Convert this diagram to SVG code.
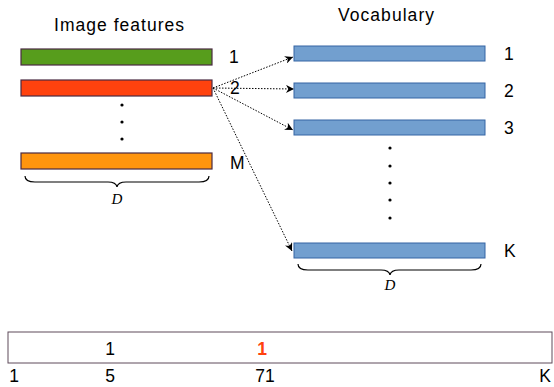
<svg xmlns="http://www.w3.org/2000/svg" width="554" height="387" viewBox="0 0 554 387">
<defs>
<marker id="ah" viewBox="0 0 10 10" refX="10" refY="5" markerWidth="10" markerHeight="8" markerUnits="userSpaceOnUse" orient="auto">
<path d="M0,0 L10,5 L0,10 L3,5 Z" fill="#000"/>
</marker>
<style>
text{font-family:"Liberation Sans",Arial,sans-serif;font-size:17.5px;fill:#000}
.d{font-family:"Liberation Serif","Times New Roman",serif;font-style:italic;font-size:15px}
.feat{stroke:#4a2a42;stroke-width:1.2}
.voc{fill:#729fcf;stroke:#3465a4;stroke-width:1}
.conn{fill:none;stroke:#000;stroke-width:1;stroke-dasharray:1.5,1.5}
.brace{fill:none;stroke:#000;stroke-width:1.2}
</style>
</defs>
<rect width="554" height="387" fill="#fff"/>
<text x="54" y="31" textLength="130" lengthAdjust="spacing">Image features</text>
<text x="338" y="21" textLength="96" lengthAdjust="spacing">Vocabulary</text>
<g id="feat1"><rect class="feat" x="21" y="49" width="191" height="16" fill="#579d1c"/><text x="229" y="63">1</text></g>
<g id="feat2"><rect class="feat" x="21" y="80" width="191" height="16" fill="#ff420e"/><text x="230" y="94">2</text></g>
<g id="featdots"><circle cx="122" cy="105" r="1.6"/><circle cx="122" cy="122" r="1.6"/><circle cx="122" cy="139" r="1.6"/></g>
<g id="featM"><rect class="feat" x="21" y="153" width="191" height="16" fill="#ff950e"/><text x="230" y="169">M</text></g>
<g id="braceL"><path class="brace" d="M25,176 Q25,182 35,182 L108,182 Q116,182 117,187 Q118,182 126,182 L199,182 Q209,182 209,176"/><text class="d" x="117" y="204" text-anchor="middle">D</text></g>
<g id="voc1"><rect class="voc" x="294" y="46" width="191" height="15"/><text x="504" y="60">1</text></g>
<g id="voc2"><rect class="voc" x="294" y="83" width="191" height="15"/><text x="504" y="97">2</text></g>
<g id="voc3"><rect class="voc" x="294" y="120" width="191" height="15"/><text x="504" y="134">3</text></g>
<g id="vocdots"><circle cx="390" cy="148" r="1.6"/><circle cx="390" cy="166" r="1.6"/><circle cx="390" cy="183" r="1.6"/><circle cx="390" cy="200" r="1.6"/><circle cx="390" cy="218" r="1.6"/></g>
<g id="vocK"><rect class="voc" x="294" y="243" width="191" height="15"/><text x="504" y="257">K</text></g>
<g id="braceR"><path class="brace" d="M298,264 Q298,270 308,270 L381,270 Q389,270 390,275 Q391,270 399,270 L471,270 Q481,270 481,264"/><text class="d" x="390" y="290" text-anchor="middle">D</text></g>
<g id="connectors">
<line class="conn" x1="213" y1="88" x2="293" y2="57" marker-end="url(#ah)"/>
<line class="conn" x1="213" y1="88" x2="294" y2="89" marker-end="url(#ah)"/>
<line class="conn" x1="213" y1="88" x2="293" y2="130" marker-end="url(#ah)"/>
<line class="conn" x1="213" y1="88" x2="292" y2="251" marker-end="url(#ah)"/>
</g>
<g id="histogram">
<rect x="8" y="332" width="544" height="31" fill="#fff" stroke="#5e4a5a" stroke-width="1"/>
<text x="110" y="355" text-anchor="middle">1</text>
<text x="262" y="355" text-anchor="middle" style="fill:#ff420e;font-weight:bold">1</text>
<text x="14" y="382" text-anchor="middle">1</text>
<text x="110" y="382" text-anchor="middle">5</text>
<text x="265" y="382" text-anchor="middle">71</text>
<text x="545" y="382" text-anchor="middle">K</text>
</g>
</svg>
